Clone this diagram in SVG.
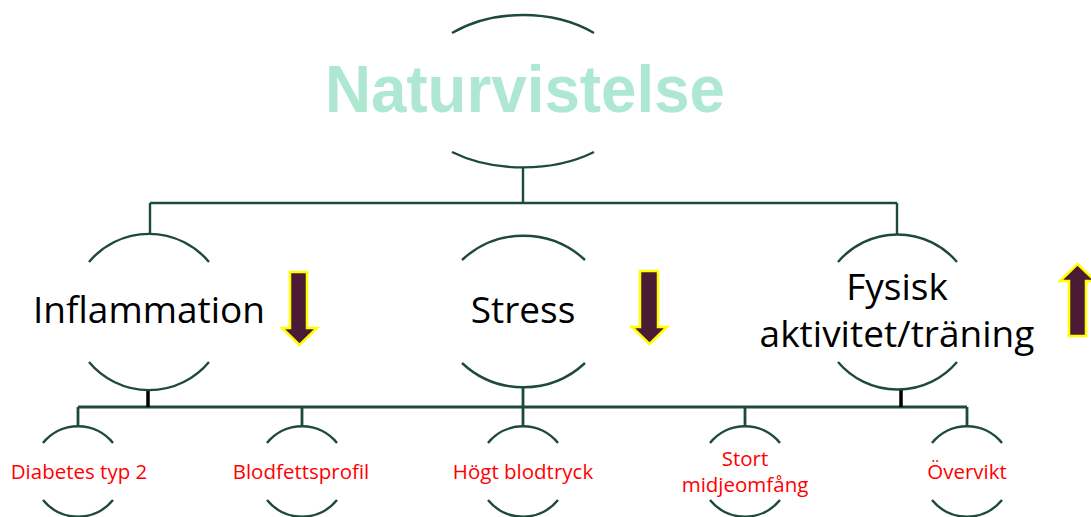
<svg xmlns="http://www.w3.org/2000/svg" width="1091" height="517" viewBox="0 0 1091 517">
<style>
.arc{fill:none;stroke:#1E4A3A;stroke-width:2.4}
.ln{fill:none;stroke:#1E4A3A;stroke-width:2.4}
.ln2{fill:none;stroke:#1E4A3A;stroke-width:2.8}
.blk{fill:none;stroke:#000;stroke-width:3.5}
.mid{font-family:"Open Sans","Liberation Sans",sans-serif;font-size:37px;fill:#000;text-anchor:middle}
.low{font-family:"Open Sans","Liberation Sans",sans-serif;font-size:20.5px;fill:#FF0000;text-anchor:middle}
.title{font-family:"Liberation Sans",Arial,sans-serif;font-weight:bold;font-size:66px;fill:#AEE8D2;text-anchor:middle}
.arrow{fill:#4B1A33;stroke:#FFFF00;stroke-width:2.5;stroke-linejoin:miter}
</style>
<rect width="1091" height="517" fill="#fff"/>
<g id="connectors">
<path class="ln" d="M523,167V203M150,203H897M150,203V234M897,203V234"/>
<path class="ln2" d="M523,387V425M78,407H967M78,407V425M302,407V425M745,407V425M967,407V425"/>
<path class="blk" d="M148,389V407M901,390V407"/>
</g>
<g id="node-naturvistelse">
<path class="arc" d="M452,33 A110,76 0 0 1 594,33"/>
<path class="arc" d="M452,152 A112,68 0 0 0 594,152"/>
<text class="title" x="525" y="112" textLength="400" lengthAdjust="spacingAndGlyphs">Naturvistelse</text>
</g>
<g id="node-inflammation">
<path class="arc" d="M89,262 A78,78 0 0 1 209,262"/>
<path class="arc" d="M89,362 A78,78 0 0 0 209,362"/>
<text class="mid" x="149" y="323">Inflammation</text>
<polygon class="arrow" points="290,272 307,272 307,328 317,328 299.5,345 282,328 290,328"/>
</g>
<g id="node-stress">
<path class="arc" d="M462,260 A90,90 0 0 1 585,260"/>
<path class="arc" d="M462,363 A90,90 0 0 0 585,363"/>
<text class="mid" x="523" y="323">Stress</text>
<polygon class="arrow" points="640,271 658,271 658,327 667,327 649.5,344 632,327 640,327"/>
</g>
<g id="node-fysisk">
<path class="arc" d="M838,262 A78,78 0 0 1 957,262"/>
<path class="arc" d="M838,362 A78,78 0 0 0 957,362"/>
<text class="mid" x="897" y="300">Fysisk</text>
<text class="mid" x="897" y="347">aktivitet/träning</text>
<polygon class="arrow" points="1077.5,264 1095,281 1086,281 1086,336 1069,336 1069,281 1060,281"/>
</g>
<g id="node-diabetes">
<path class="arc" d="M43,443 A45,45 0 0 1 113,443"/>
<path class="arc" d="M43,500 A45,45 0 0 0 113,500"/>
<text class="low" x="79" y="479">Diabetes typ 2</text>
</g>
<g id="node-blodfett">
<path class="arc" d="M267,443 A45,45 0 0 1 337,443"/>
<path class="arc" d="M267,500 A45,45 0 0 0 337,500"/>
<text class="low" x="301" y="479">Blodfettsprofil</text>
</g>
<g id="node-hogt">
<path class="arc" d="M488,443 A45,45 0 0 1 558,443"/>
<path class="arc" d="M488,500 A45,45 0 0 0 558,500"/>
<text class="low" x="523" y="479">Högt blodtryck</text>
</g>
<g id="node-stort">
<path class="arc" d="M710,443 A45,45 0 0 1 780,443"/>
<path class="arc" d="M710,500 A45,45 0 0 0 780,500"/>
<text class="low" x="745" y="466">Stort</text>
<text class="low" x="745" y="492">midjeomfång</text>
</g>
<g id="node-overvikt">
<path class="arc" d="M932,443 A45,45 0 0 1 1002,443"/>
<path class="arc" d="M932,500 A45,45 0 0 0 1002,500"/>
<text class="low" x="967" y="479">Övervikt</text>
</g>
</svg>
